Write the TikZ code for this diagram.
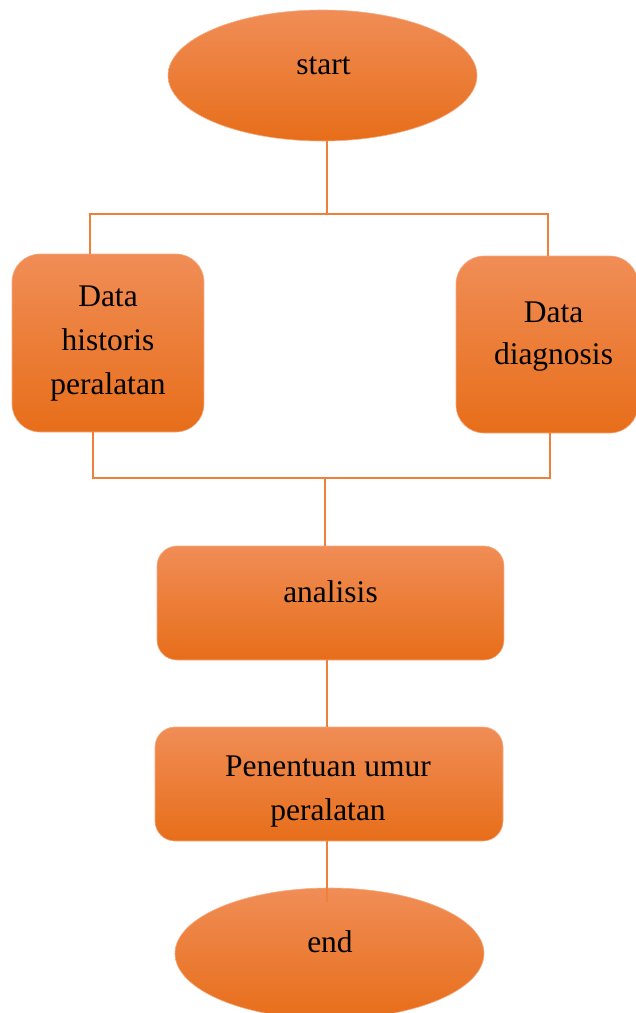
\documentclass[tikz,border=0pt]{standalone}
\usepackage{fontspec}
\setmainfont{Liberation Serif}
\usetikzlibrary{shapes.geometric,calc}
\definecolor{otop}{RGB}{240,141,86}
\definecolor{omid}{RGB}{244,126,46}
\definecolor{obot}{RGB}{231,110,26}
\definecolor{oedge}{RGB}{246,172,132}
\definecolor{oline}{RGB}{238,128,60}
\tikzset{
  shp/.style={top color=otop, middle color=omid, bottom color=obot, draw=oedge, line width=0.6pt, inner sep=0pt},
  oval/.style={shp, ellipse},
  rbox/.style={shp, rectangle, rounded corners=#1},
  rbox/.default=20pt,
  txt/.style={font=\fontsize{31.5}{44}\selectfont, align=center, inner sep=0pt, anchor=base, text=black},
  conn/.style={draw=oline, line width=1.2pt}
}
\begin{document}
\begin{tikzpicture}[x=1pt,y=-1pt]
\useasboundingbox (0,0) rectangle (636,1013);
\clip (0,0) rectangle (636,1013);
% shapes
\node[oval, minimum width=309pt, minimum height=131pt] (start) at (322.5,75.5) {};
\node[rbox=28pt, minimum width=192pt, minimum height=178pt] (hist) at (108,343) {};
\node[rbox=28pt, minimum width=182pt, minimum height=177pt] (diag) at (547,344.5) {};
\node[rbox=20pt, minimum width=347pt, minimum height=114pt] (ana) at (330.5,603) {};
\node[rbox=20pt, minimum width=348pt, minimum height=114pt] (pen) at (329,784) {};
\node[oval, minimum width=309pt, minimum height=131pt] (endn) at (329.5,953.5) {};
% texts (anchor = baseline of last line)
\node[txt] (tstart) at (323.5,74) {start};
\node[txt] (thist) at (108,394) {Data\\historis\\peralatan};
\node[txt] (tdiag) at (553.5,364) {Data\\[-2pt]diagnosis};
\node[txt] (tana) at (330.5,602) {analisis};
\node[txt] (tpen) at (328,820) {Penentuan umur\\peralatan};
\node[txt] (tend) at (330,952) {end};
% connector coordinates
\coordinate (f1) at (327,214);
\coordinate (fl) at (90,214);
\coordinate (fr) at (548,214);
\coordinate (gl) at (93,478);
\coordinate (gr) at (550,478);
\coordinate (gm) at (325,478);
\coordinate (m1) at (327,0);
% connectors
\draw[conn] (start.south -| f1) -- (f1);
\draw[conn] (hist.north -| fl) -- (fl) -- (fr) -- (diag.north -| fr);
\draw[conn] (hist.south -| gl) -- (gl) -- (gr) -- (diag.south -| gr);
\draw[conn] (gm) -- (ana.north -| gm);
\draw[conn] (ana.south -| m1) -- (pen.north -| m1);
\draw[conn] (pen.south -| m1) -- ($(endn.north -| m1)+(0,14)$);
\end{tikzpicture}
\end{document}
